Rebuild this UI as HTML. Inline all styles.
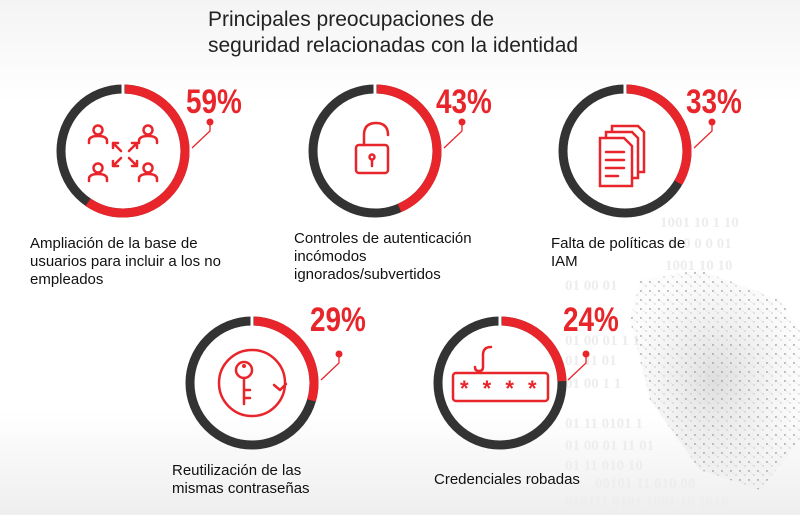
<!DOCTYPE html>
<html><head><meta charset="utf-8"><style>
body{margin:0;width:800px;height:515px;overflow:hidden;background:#fff;font-family:"Liberation Sans",sans-serif}
</style></head><body>
<svg width="800" height="515" viewBox="0 0 800 515" xmlns="http://www.w3.org/2000/svg" font-family="Liberation Sans, sans-serif">
<defs>
<linearGradient id="bg" x1="0" y1="0" x2="0" y2="1"><stop offset="0" stop-color="#f4f4f4"/><stop offset="0.2" stop-color="#fff"/><stop offset="0.8" stop-color="#fff"/><stop offset="1" stop-color="#eee"/></linearGradient>
<radialGradient id="blob" cx="0.5" cy="0.5" r="0.5"><stop offset="0" stop-color="#c8c8c8" stop-opacity="0.6"/><stop offset="1" stop-color="#ddd" stop-opacity="0.1"/></radialGradient>
<pattern id="dots" width="9" height="9" patternUnits="userSpaceOnUse"><circle cx="2" cy="3" r="1" fill="#777"/><circle cx="7" cy="7" r="0.7" fill="#999"/><path d="M2 3 L7 7" stroke="#ccc" stroke-width="0.5"/></pattern>
</defs>
<rect width="800" height="515" fill="url(#bg)"/>
<g fill="#ededed" font-size="15" font-weight="bold" font-family="Liberation Serif, serif">
<text x="660" y="227">1001 10 1 10</text><text x="668" y="248">010 0  0 01</text>
<text x="665" y="270">1001 10   10</text><text x="565" y="290">01 00 01</text>
<text x="565" y="345">01 00 01 1 1</text><text x="565" y="365">01  11 01</text>
<text x="565" y="388">01 00  1  1</text><text x="565" y="428">01 11 0101 1</text>
<text x="565" y="450">01 00 01  11 01</text><text x="565" y="470">01  11 010  10</text>
<text x="595" y="488">00101  11 010 00</text><text x="565" y="506">010111 0101 1001 10 1010</text>
</g>
<path d="M640 280 L700 270 L780 300 L800 330 L800 440 L760 490 L700 470 L650 400 L630 320Z" fill="url(#blob)"/>
<path d="M640 280 L700 270 L780 300 L800 330 L800 440 L760 490 L700 470 L650 400 L630 320Z" fill="url(#dots)" opacity="0.6"/>
<text x="208" y="26" font-size="21" fill="#222">Principales preocupaciones de</text>
<text x="208" y="52" font-size="21" fill="#222">seguridad relacionadas con la identidad</text>

<g fill="none" stroke-width="9">
<g transform="translate(123,151) rotate(-90)">
<circle r="62" stroke="#333"/><circle r="62" stroke="#e8252a" stroke-dasharray="229.8 400" stroke-dashoffset="-2"/></g>
<g transform="translate(375,151) rotate(-90)">
<circle r="62" stroke="#333"/><circle r="62" stroke="#e8252a" stroke-dasharray="167.5 400" stroke-dashoffset="-2"/></g>
<g transform="translate(625,151) rotate(-90)">
<circle r="62" stroke="#333"/><circle r="62" stroke="#e8252a" stroke-dasharray="128.6 400" stroke-dashoffset="-2"/></g>
<g transform="translate(252,383) rotate(-90)">
<circle r="62" stroke="#333"/><circle r="62" stroke="#e8252a" stroke-dasharray="113 400" stroke-dashoffset="-2"/></g>
<g transform="translate(500,383) rotate(-90)">
<circle r="62" stroke="#333"/><circle r="62" stroke="#e8252a" stroke-dasharray="93.5 400" stroke-dashoffset="-2"/></g>
</g>
<g stroke="#fff" stroke-width="3">
<line x1="123" y1="83" x2="123" y2="95"/><line x1="375" y1="83" x2="375" y2="95"/><line x1="625" y1="83" x2="625" y2="95"/><line x1="252" y1="315" x2="252" y2="327"/><line x1="500" y1="315" x2="500" y2="327"/>
</g>
<g stroke="#e8252a" stroke-width="1.3" fill="none">
<path d="M210 122 V131 L192 148"/><path d="M462 122 V131 L444 148"/><path d="M712 122 V131 L694 148"/>
<path d="M339 354 V363 L321 380"/><path d="M586 354 V363 L568 380"/>
</g>
<g fill="#e8252a">
<circle cx="210" cy="122" r="3.5"/><circle cx="462" cy="122" r="3.5"/><circle cx="712" cy="122" r="3.5"/><circle cx="339" cy="354" r="3.5"/><circle cx="586" cy="354" r="3.5"/>
</g>
<g fill="#e8252a" font-size="34" font-weight="bold">
<text transform="translate(186,113) scale(0.82,1)">59%</text><text transform="translate(436,113) scale(0.82,1)">43%</text><text transform="translate(686,113) scale(0.82,1)">33%</text>
<text transform="translate(310,331) scale(0.82,1)">29%</text><text transform="translate(563,331) scale(0.82,1)">24%</text>
</g>
<g stroke="#e8252a" stroke-width="2.5" fill="none" stroke-linecap="round">
<g><circle cx="98" cy="130" r="4.5"/><path d="M89 143 v-2 q0-5 9-5 q9 0 9 5 v2"/></g>
<g transform="translate(50,0)"><circle cx="98" cy="130" r="4.5"/><path d="M89 143 v-2 q0-5 9-5 q9 0 9 5 v2"/></g>
<g transform="translate(0,38)"><circle cx="98" cy="130" r="4.5"/><path d="M89 143 v-2 q0-5 9-5 q9 0 9 5 v2"/></g>
<g transform="translate(50,38)"><circle cx="98" cy="130" r="4.5"/><path d="M89 143 v-2 q0-5 9-5 q9 0 9 5 v2"/></g>
<path d="M113 143 l8 8 M113 143 h5 M113 143 v5 M137 143 l-8 8 M137 143 h-5 M137 143 v5 M113 166 l8-8 M113 166 h5 M113 166 v-5 M137 166 l-8-8 M137 166 h-5 M137 166 v-5"/>
<rect x="356" y="145" width="32" height="28" rx="3"/><path d="M364 145 v-10 q0-12 12-12 q12 0 12 12"/><circle cx="372" cy="157" r="2.5"/><path d="M372 160 v6"/>
<path d="M600 138 h24 l8 8 v40 h-32z"/><path d="M606 138 v-6 h26 l6 6 v40 h-6 M612 132 v-6 h26 l6 6 v40 h-6"/>
<path d="M606 152 h18 M606 160 h18 M606 168 h18 M606 176 h12"/>
<circle cx="252" cy="383" r="33"/>
<path d="M280 390 l6 -6 M280 390 l-6 -5" />
<circle cx="244" cy="370" r="8"/><path d="M244 378 v26 M244 390 h6 M244 398 h6"/>
<path d="M483 355 q0-8 8-8 M483 355 v12 q0 4 -4 4 q-4 0 -4-4"/>
<rect x="453" y="373" width="95" height="28" rx="3"/>
</g>
<circle cx="244" cy="366" r="2" fill="#e8252a"/>
<text x="460" y="396" font-size="22" font-weight="bold" fill="#e8252a" letter-spacing="4">* * * *</text>
<g font-size="15" fill="#111">
<text x="30" y="248">Ampliación de la base de</text><text x="30" y="266">usuarios para incluir a los no</text><text x="30" y="284">empleados</text>
<text x="294" y="243">Controles de autenticación</text><text x="294" y="261">incómodos</text><text x="294" y="279">ignorados/subvertidos</text>
<text x="551" y="248">Falta de políticas de</text><text x="551" y="266">IAM</text>
<text x="172" y="475">Reutilización de las</text><text x="172" y="493">mismas contraseñas</text>
<text x="434" y="484">Credenciales robadas</text>
</g>
</svg>
</body></html>
